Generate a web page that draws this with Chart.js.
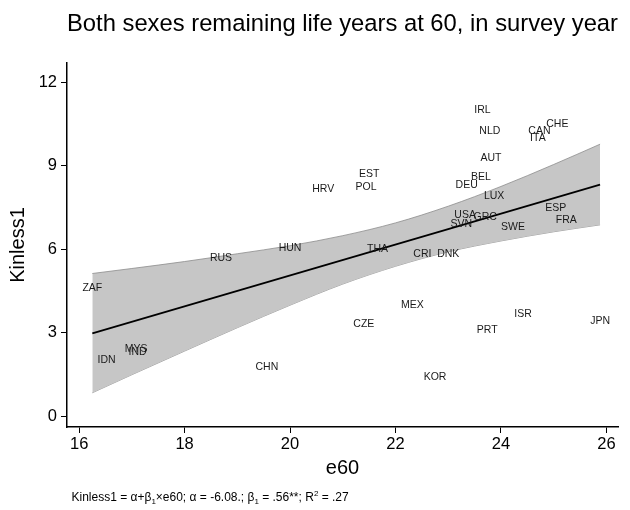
<!DOCTYPE html>
<html><head><meta charset="utf-8">
<script src="https://cdn.jsdelivr.net/npm/chart.js@4.4.1/dist/chart.umd.min.js"></script>
<style>html,body{margin:0;padding:0;background:#fff}#wrap{width:630px;height:510px}</style>
</head><body><div id="wrap"><canvas id="c" width="630" height="510"></canvas></div>
<script>
const countries = ["ZAF","IDN","MYS","IND","RUS","CHN","HUN","HRV","CZE","POL","EST","THA","MEX","CRI","KOR","DNK","SVN","USA","DEU","BEL","IRL","GRC","PRT","NLD","AUT","LUX","SWE","ISR","ITA","CAN","ESP","CHE","FRA","JPN"];
const e60 =     [16.25,16.52,17.08,17.11,18.69,19.56,20.00,20.63,21.40,21.44,21.50,21.66,22.32,22.51,22.75,23.00,23.25,23.32,23.35,23.62,23.65,23.70,23.74,23.79,23.81,23.87,24.23,24.42,24.70,24.73,25.04,25.07,25.24,25.88];
const kinless = [4.59, 2.01, 2.40, 2.29, 5.67, 1.77, 6.05, 8.15, 3.31, 8.24, 8.71, 6.00, 3.99, 5.83, 1.39, 5.83, 6.90, 7.24, 8.32, 8.60, 11.01,7.17, 3.09, 10.26,9.28, 7.91, 6.79, 3.67, 9.99, 10.24,7.48, 10.50,7.05, 3.42];

const fitX = [16.25, 25.88];
const fitY = [2.98, 8.33];

const bandX =     [16.25, 17,   18,   19,   20,   21,   22,   23,   24,   25,   25.88];
const bandLower = [0.84,  1.49, 2.34, 3.18, 3.99, 4.75, 5.39, 5.91, 6.30, 6.63, 6.88];
const bandUpper = [5.13,  5.31, 5.56, 5.84, 6.13, 6.49, 6.95, 7.55, 8.26, 9.05, 9.78];

const xTicks = [16, 18, 20, 22, 24, 26];
const yTicks = [0, 3, 6, 9, 12];

const titleText = "Both sexes remaining life years at 60, in survey year";
const xTitle = "e60";
const yTitle = "Kinless1";
const footnote = [["Kinless1 = \u03b1+\u03b2",0],["1",1],["\u00d7e60; \u03b1 = -6.08.; \u03b2",0],["1",1],[" = .56**; R",0],["2",2],[" = .27",0]];

const FAM = "'Liberation Sans', Arial, Helvetica, sans-serif";
Chart.defaults.font.family = FAM;
Chart.defaults.color = '#000';

const pts = (xs, ys) => xs.map((x, i) => ({x: x, y: ys[i]}));

const labelPlugin = {
  id: 'labels',
  afterDatasetsDraw(chart) {
    const ctx = chart.ctx;
    const meta = chart.getDatasetMeta(0);
    ctx.save();
    ctx.font = "10.5px " + FAM;
    ctx.fillStyle = '#1a1a1a';
    ctx.textAlign = 'center';
    ctx.textBaseline = 'middle';
    meta.data.forEach((el, i) => {
      ctx.fillText(countries[i], el.x, el.y);
    });
    ctx.restore();
  },
  afterDraw(chart) {
    const ctx = chart.ctx;
    ctx.save();
    ctx.fillStyle = '#000';
    ctx.textBaseline = 'alphabetic';
    ctx.textAlign = 'left';
    let x = chart.chartArea.left + 4.5;
    const base = 501;
    footnote.forEach(([t, k]) => {
      if (k === 0) { ctx.font = "12px " + FAM; ctx.fillText(t, x, base); }
      else if (k === 1) { ctx.font = "8px " + FAM; ctx.fillText(t, x, base + 3); }
      else { ctx.font = "8px " + FAM; ctx.fillText(t, x, base - 5); }
      x += ctx.measureText(t).width;
    });
    ctx.restore();
  }
};

new Chart(document.getElementById('c'), {
  data: {
    datasets: [
      { type: 'scatter', data: pts(e60, kinless), pointRadius: 0, pointHoverRadius: 0, showLine: false, order: 0 },
      { type: 'line', data: pts(fitX, fitY), borderColor: '#000', borderWidth: 1.8, pointRadius: 0, fill: false, tension: 0, order: 1 },
      { type: 'line', data: pts(bandX, bandLower), borderColor: '#8c8c8c', borderWidth: 0.8, pointRadius: 0, fill: false, cubicInterpolationMode: 'monotone', order: 3 },
      { type: 'line', data: pts(bandX, bandUpper), borderColor: '#8c8c8c', borderWidth: 0.8, pointRadius: 0, fill: {target: 2}, backgroundColor: '#c6c6c6', cubicInterpolationMode: 'monotone', order: 2 }
    ]
  },
  options: {
    responsive: false,
    devicePixelRatio: 1,
    animation: false,
    events: [],
    layout: { padding: { left: 0, right: 12, top: 0, bottom: 0 } },
    plugins: {
      legend: { display: false },
      tooltip: { enabled: false },
      title: { display: true, text: titleText, fullSize: false, color: '#000',
               font: { size: 24.5, weight: 'normal' }, padding: { top: 10, bottom: 23.6 } }
    },
    scales: {
      x: {
        type: 'linear', min: 15.77, max: 26.22,
        afterBuildTicks: s => { s.ticks = xTicks.map(v => ({value: v})); },
        afterFit: s => { s.height = 83; },
        grid: { display: true, drawOnChartArea: false, drawTicks: true, tickLength: 6, color: '#000', lineWidth: 1 },
        border: { display: true, color: '#000', width: 1.5 },
        ticks: { font: { size: 16.5 }, color: '#000', padding: 2, maxRotation: 0, autoSkip: false },
        title: { display: true, text: xTitle, color: '#000', font: { size: 20 }, padding: { top: 0, bottom: 30 } }
      },
      y: {
        type: 'linear', min: -0.39, max: 12.7,
        afterBuildTicks: s => { s.ticks = yTicks.map(v => ({value: v})); },
        afterFit: s => { s.width = 67; },
        grid: { display: true, drawOnChartArea: false, drawTicks: true, tickLength: 6, color: '#000', lineWidth: 1 },
        border: { display: true, color: '#000', width: 1.5 },
        ticks: { font: { size: 16.5 }, color: '#000', padding: 4, autoSkip: false },
        title: { display: true, text: yTitle, color: '#000', font: { size: 20 }, padding: { top: 6.5, bottom: 0 } }
      }
    }
  },
  plugins: [labelPlugin]
});
</script>
</body></html>
